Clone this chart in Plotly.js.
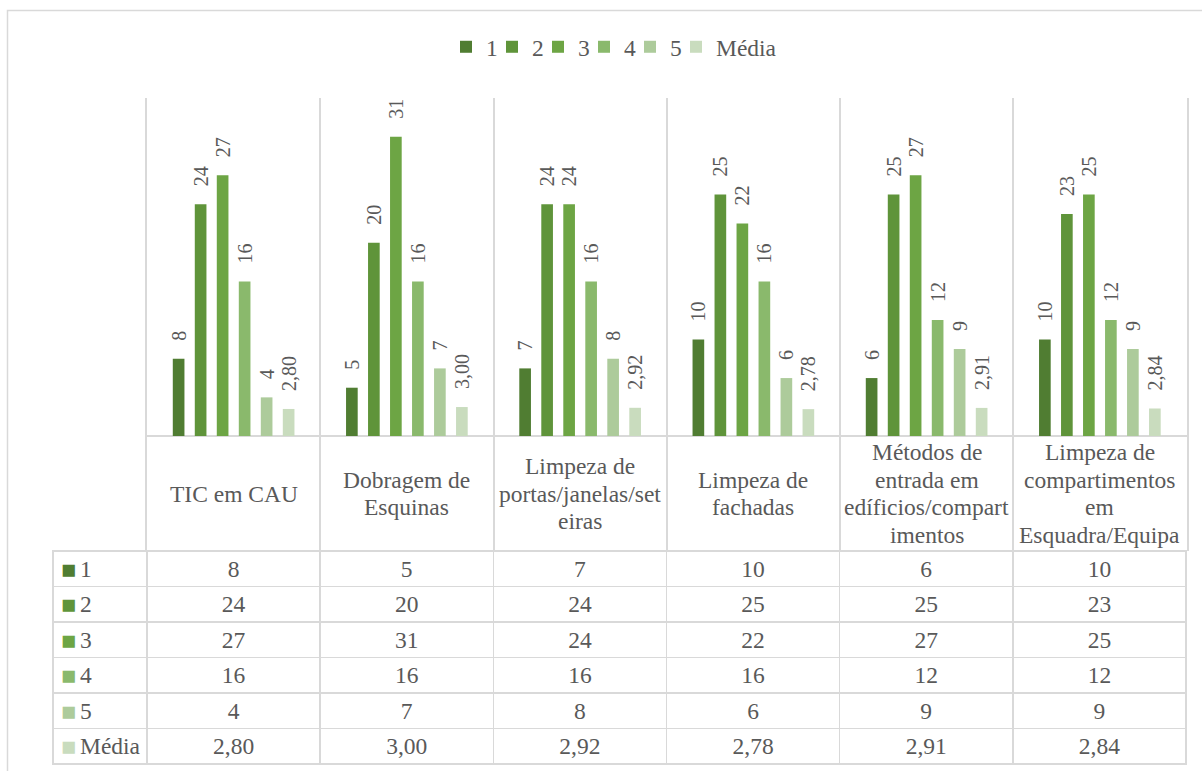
<!DOCTYPE html>
<html><head><meta charset="utf-8">
<script src="https://cdn.plot.ly/plotly-3.0.1.min.js"></script>
</head><body style="margin:0;padding:0"><div id="chart" style="width:1202px;height:771px"></div>
<script>
const categories = ['TIC em CAU','Dobragem de Esquinas','Limpeza de portas/janelas/seteiras','Limpeza de fachadas','Métodos de entrada em edíficios/compartimentos','Limpeza de compartimentos em Esquadra/Equipa'];
const categoryLines = [['TIC em CAU'],['Dobragem de','Esquinas'],['Limpeza de','portas/janelas/set','eiras'],['Limpeza de','fachadas'],['Métodos de','entrada em','edíficios/compart','imentos'],['Limpeza de','compartimentos','em','Esquadra/Equipa']];
const seriesNames = ['1','2','3','4','5','Média'];
const s1 = [8,5,7,10,6,10];
const s2 = [24,20,24,25,25,23];
const s3 = [27,31,24,22,27,25];
const s4 = [16,16,16,16,12,12];
const s5 = [4,7,8,6,9,9];
const media = [2.80,3.00,2.92,2.78,2.91,2.84];
const seriesColors = ['#507d32','#5f943a','#6da544','#8ab96c','#adcb9b','#c9dcbe'];

const W=1202,H=771;
const px = v => v/W, py = v => 1 - v/H;
const SERIF='Liberation Serif';
const GRAY='#595959', LINE='#d9d9d9', CLEAR='rgba(0,0,0,0)';
const allSeries=[s1,s2,s3,s4,s5,media];
const fmt=(v,i)=> i===5 ? v.toFixed(2).replace('.',',') : String(v);
const NB='\u00A0';

const pxPerUnit=(436-98)/35;
const yMin=-(551-436)/pxPerUnit;
const yMid=-(493.5-436)/pxPerUnit;

const traces = allSeries.map((vals,i)=>({
  type:'bar', name:seriesNames[i], x:categories, y:vals,
  marker:{color:seriesColors[i]},
  text: vals.map(v=>NB+NB+NB+fmt(v,i)),
  textposition:'outside', textangle:-90, constraintext:'none', cliponaxis:false,
  textfont:{family:SERIF,size:20,color:GRAY},
  legendwidth: i<5 ? 1 : 0,
  hoverinfo:'skip'
}));

const tableCols = [seriesNames.map(()=>'')].concat(categories.map((c,j)=>allSeries.map((vals,i)=>fmt(vals[j],i))));
const tableTop = 551-16;
const emptyHeader = {values:[], fill:{color:CLEAR}, line:{color:CLEAR,width:0}};
traces.push({
  type:'table',
  domain:{x:[px(53),px(1186.5)], y:[0,py(tableTop)]},
  columnwidth:[94].concat(categories.map(()=>173.2)),
  header:emptyHeader,
  cells:{values:tableCols, height:35.5,
    align:['left'].concat(categories.map(()=>'center')),
    fill:{color:'#ffffff'}, line:{color:LINE,width:1.5},
    font:{family:SERIF,size:23.5,color:GRAY}}
});
traces.push({
  type:'table',
  domain:{x:[px(53),px(147)], y:[0,py(tableTop)]},
  header:emptyHeader,
  cells:{values:[seriesNames.map(()=>'■')], height:35.5, align:['left'],
    fill:{color:CLEAR}, line:{color:CLEAR,width:0},
    font:{family:SERIF,size:25,color:[seriesColors]}}
});
traces.push({
  type:'table',
  domain:{x:[px(72),px(147)], y:[0,py(tableTop)]},
  header:emptyHeader,
  cells:{values:[seriesNames], height:35.5, align:['left'],
    fill:{color:CLEAR}, line:{color:CLEAR,width:0},
    font:{family:SERIF,size:23.5,color:GRAY}}
});

const annotations=[];
categoryLines.forEach((lines,j)=>{
  const n=lines.length;
  lines.forEach((t,k)=>{
    annotations.push({x:categories[j], y:yMid, xref:'x', yref:'y', text:t, showarrow:false,
      yanchor:'middle', xanchor:'center', yshift:-((k-(n-1)/2)*27.7),
      font:{family:SERIF,size:23.5,color:GRAY}});
  });
});

const layout={
  width:W,height:H,margin:{l:0,r:0,t:0,b:0},
  paper_bgcolor:'#fff',plot_bgcolor:'#fff',
  barmode:'group',bargap:0.238,bargroupgap:0.47,
  showlegend:true,
  legend:{orientation:'h',x:px(614),xanchor:'center',y:py(47),yanchor:'middle',
    font:{family:SERIF,size:23.5,color:GRAY},bgcolor:CLEAR},
  xaxis:{domain:[px(147),px(1186.5)],type:'category',showticklabels:false,ticks:'',
    showgrid:true,tickson:'boundaries',gridcolor:LINE,gridwidth:1.5,showline:false,zeroline:false,fixedrange:true},
  yaxis:{domain:[py(551),py(98)],range:[yMin,35],showticklabels:false,ticks:'',showgrid:false,
    zeroline:true,zerolinecolor:LINE,zerolinewidth:1.5,showline:true,mirror:true,linecolor:LINE,linewidth:1.5,fixedrange:true},
  annotations:annotations,
  shapes:[{type:'rect',xref:'paper',yref:'paper',x0:px(7.5),x1:1.02,y0:-0.02,y1:py(10.5),
    line:{color:LINE,width:1.5},fillcolor:CLEAR}]
};
Plotly.newPlot('chart',traces,layout,{displayModeBar:false});
</script></body></html>
